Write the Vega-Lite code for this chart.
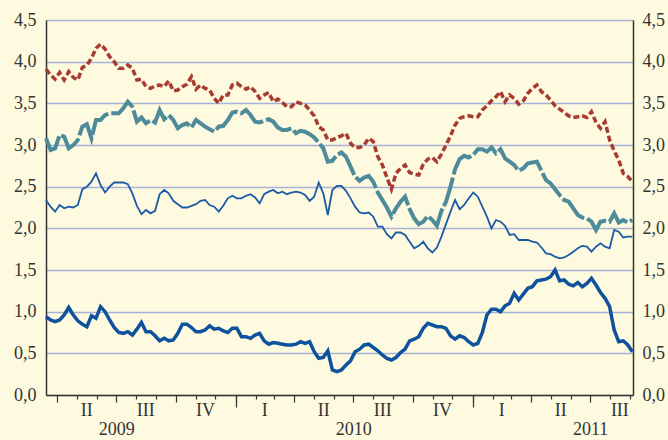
{
 "$schema": "https://vega.github.io/schema/vega-lite/v6.json",
 "width": 587,
 "height": 375,
 "autosize": "none",
 "padding": {"left": 46, "top": 20, "right": 35, "bottom": 45},
 "background": "#fefadf",
 "config": {
  "view": {"stroke": null},
  "axis": {"labelFont": "Liberation Serif", "labelFontSize": 18, "labelColor": "#333333", "domainColor": "#333333", "tickColor": "#333333", "labelFlush": false, "labelOverlap": false, "labelBound": false, "title": null, "grid": false}
 },
 "data": {"values": [
  {"d":"2009-03-15","r":3.91,"t":3.08,"b":2.34,"k":0.94},
  {"d":"2009-03-22","r":3.84,"t":2.94,"b":2.26,"k":0.90},
  {"d":"2009-03-29","r":3.79,"t":2.96,"b":2.20,"k":0.88},
  {"d":"2009-04-05","r":3.87,"t":3.12,"b":2.28,"k":0.90},
  {"d":"2009-04-12","r":3.78,"t":3.10,"b":2.24,"k":0.96},
  {"d":"2009-04-19","r":3.88,"t":2.96,"b":2.26,"k":1.05},
  {"d":"2009-04-26","r":3.81,"t":3.00,"b":2.25,"k":0.96},
  {"d":"2009-05-03","r":3.78,"t":3.06,"b":2.28,"k":0.89},
  {"d":"2009-05-10","r":3.93,"t":3.22,"b":2.47,"k":0.85},
  {"d":"2009-05-17","r":3.96,"t":3.25,"b":2.50,"k":0.82},
  {"d":"2009-05-24","r":4.04,"t":3.08,"b":2.56,"k":0.95},
  {"d":"2009-05-31","r":4.16,"t":3.30,"b":2.66,"k":0.92},
  {"d":"2009-06-07","r":4.21,"t":3.30,"b":2.52,"k":1.06},
  {"d":"2009-06-14","r":4.15,"t":3.36,"b":2.43,"k":1.00},
  {"d":"2009-06-21","r":4.06,"t":3.38,"b":2.50,"k":0.90},
  {"d":"2009-06-28","r":4.00,"t":3.38,"b":2.55,"k":0.81},
  {"d":"2009-07-05","r":3.92,"t":3.38,"b":2.55,"k":0.75},
  {"d":"2009-07-12","r":3.92,"t":3.44,"b":2.55,"k":0.74},
  {"d":"2009-07-19","r":3.96,"t":3.52,"b":2.53,"k":0.76},
  {"d":"2009-07-26","r":3.92,"t":3.46,"b":2.42,"k":0.72},
  {"d":"2009-08-02","r":3.78,"t":3.28,"b":2.27,"k":0.79},
  {"d":"2009-08-09","r":3.79,"t":3.33,"b":2.17,"k":0.87},
  {"d":"2009-08-16","r":3.70,"t":3.26,"b":2.22,"k":0.76},
  {"d":"2009-08-23","r":3.68,"t":3.30,"b":2.18,"k":0.76},
  {"d":"2009-08-30","r":3.71,"t":3.27,"b":2.21,"k":0.71},
  {"d":"2009-09-06","r":3.72,"t":3.42,"b":2.41,"k":0.65},
  {"d":"2009-09-13","r":3.70,"t":3.31,"b":2.46,"k":0.68},
  {"d":"2009-09-20","r":3.77,"t":3.36,"b":2.42,"k":0.65},
  {"d":"2009-09-27","r":3.65,"t":3.30,"b":2.33,"k":0.66},
  {"d":"2009-10-04","r":3.66,"t":3.20,"b":2.29,"k":0.74},
  {"d":"2009-10-11","r":3.70,"t":3.24,"b":2.25,"k":0.85},
  {"d":"2009-10-18","r":3.73,"t":3.26,"b":2.25,"k":0.85},
  {"d":"2009-10-25","r":3.82,"t":3.21,"b":2.27,"k":0.81},
  {"d":"2009-11-01","r":3.67,"t":3.30,"b":2.29,"k":0.76},
  {"d":"2009-11-08","r":3.72,"t":3.26,"b":2.33,"k":0.76},
  {"d":"2009-11-15","r":3.68,"t":3.22,"b":2.34,"k":0.78},
  {"d":"2009-11-22","r":3.66,"t":3.19,"b":2.28,"k":0.83},
  {"d":"2009-11-29","r":3.56,"t":3.16,"b":2.26,"k":0.79},
  {"d":"2009-12-06","r":3.50,"t":3.22,"b":2.20,"k":0.80},
  {"d":"2009-12-13","r":3.60,"t":3.23,"b":2.27,"k":0.77},
  {"d":"2009-12-20","r":3.60,"t":3.30,"b":2.36,"k":0.75},
  {"d":"2009-12-27","r":3.72,"t":3.39,"b":2.39,"k":0.80},
  {"d":"2010-01-03","r":3.74,"t":3.40,"b":2.36,"k":0.80},
  {"d":"2010-01-10","r":3.70,"t":3.38,"b":2.36,"k":0.70},
  {"d":"2010-01-17","r":3.67,"t":3.42,"b":2.39,"k":0.70},
  {"d":"2010-01-24","r":3.70,"t":3.36,"b":2.41,"k":0.68},
  {"d":"2010-01-31","r":3.64,"t":3.28,"b":2.37,"k":0.72},
  {"d":"2010-02-07","r":3.56,"t":3.27,"b":2.30,"k":0.74},
  {"d":"2010-02-14","r":3.60,"t":3.29,"b":2.41,"k":0.65},
  {"d":"2010-02-21","r":3.63,"t":3.31,"b":2.44,"k":0.61},
  {"d":"2010-02-28","r":3.52,"t":3.28,"b":2.46,"k":0.63},
  {"d":"2010-03-07","r":3.55,"t":3.21,"b":2.42,"k":0.62},
  {"d":"2010-03-14","r":3.51,"t":3.18,"b":2.44,"k":0.61},
  {"d":"2010-03-21","r":3.46,"t":3.18,"b":2.41,"k":0.60},
  {"d":"2010-03-28","r":3.46,"t":3.20,"b":2.43,"k":0.60},
  {"d":"2010-04-04","r":3.52,"t":3.14,"b":2.44,"k":0.61},
  {"d":"2010-04-11","r":3.50,"t":3.17,"b":2.43,"k":0.64},
  {"d":"2010-04-18","r":3.48,"t":3.16,"b":2.40,"k":0.62},
  {"d":"2010-04-25","r":3.42,"t":3.13,"b":2.33,"k":0.64},
  {"d":"2010-05-02","r":3.35,"t":3.09,"b":2.38,"k":0.52},
  {"d":"2010-05-09","r":3.22,"t":3.03,"b":2.55,"k":0.44},
  {"d":"2010-05-16","r":3.18,"t":2.96,"b":2.42,"k":0.45},
  {"d":"2010-05-23","r":3.06,"t":2.80,"b":2.16,"k":0.53},
  {"d":"2010-05-30","r":3.06,"t":2.81,"b":2.46,"k":0.30},
  {"d":"2010-06-06","r":3.09,"t":2.88,"b":2.51,"k":0.28},
  {"d":"2010-06-13","r":3.11,"t":2.91,"b":2.51,"k":0.30},
  {"d":"2010-06-20","r":3.14,"t":2.86,"b":2.45,"k":0.36},
  {"d":"2010-06-27","r":3.02,"t":2.74,"b":2.36,"k":0.41},
  {"d":"2010-07-04","r":2.97,"t":2.62,"b":2.26,"k":0.52},
  {"d":"2010-07-11","r":2.97,"t":2.57,"b":2.19,"k":0.55},
  {"d":"2010-07-18","r":3.00,"t":2.61,"b":2.18,"k":0.60},
  {"d":"2010-07-25","r":3.08,"t":2.63,"b":2.19,"k":0.61},
  {"d":"2010-08-01","r":3.04,"t":2.56,"b":2.14,"k":0.57},
  {"d":"2010-08-08","r":2.86,"t":2.43,"b":2.02,"k":0.53},
  {"d":"2010-08-15","r":2.76,"t":2.34,"b":2.02,"k":0.48},
  {"d":"2010-08-22","r":2.61,"t":2.25,"b":1.93,"k":0.44},
  {"d":"2010-08-29","r":2.47,"t":2.14,"b":1.88,"k":0.42},
  {"d":"2010-09-05","r":2.66,"t":2.24,"b":1.95,"k":0.45},
  {"d":"2010-09-12","r":2.72,"t":2.32,"b":1.95,"k":0.51},
  {"d":"2010-09-19","r":2.76,"t":2.38,"b":1.92,"k":0.55},
  {"d":"2010-09-26","r":2.67,"t":2.23,"b":1.84,"k":0.65},
  {"d":"2010-10-03","r":2.65,"t":2.12,"b":1.76,"k":0.67},
  {"d":"2010-10-10","r":2.64,"t":2.05,"b":1.79,"k":0.70},
  {"d":"2010-10-17","r":2.77,"t":2.08,"b":1.84,"k":0.80},
  {"d":"2010-10-24","r":2.83,"t":2.15,"b":1.76,"k":0.86},
  {"d":"2010-10-31","r":2.85,"t":2.10,"b":1.71,"k":0.84},
  {"d":"2010-11-07","r":2.80,"t":2.03,"b":1.77,"k":0.82},
  {"d":"2010-11-14","r":2.89,"t":2.21,"b":1.90,"k":0.82},
  {"d":"2010-11-21","r":3.00,"t":2.32,"b":2.05,"k":0.80},
  {"d":"2010-11-28","r":3.11,"t":2.50,"b":2.20,"k":0.71},
  {"d":"2010-12-05","r":3.24,"t":2.71,"b":2.34,"k":0.67},
  {"d":"2010-12-12","r":3.32,"t":2.83,"b":2.23,"k":0.71},
  {"d":"2010-12-19","r":3.34,"t":2.87,"b":2.28,"k":0.69},
  {"d":"2010-12-26","r":3.35,"t":2.85,"b":2.36,"k":0.64},
  {"d":"2011-01-02","r":3.34,"t":2.88,"b":2.43,"k":0.60},
  {"d":"2011-01-09","r":3.34,"t":2.95,"b":2.38,"k":0.62},
  {"d":"2011-01-16","r":3.42,"t":2.95,"b":2.26,"k":0.75},
  {"d":"2011-01-23","r":3.47,"t":2.92,"b":2.14,"k":0.96},
  {"d":"2011-01-30","r":3.53,"t":2.97,"b":2.00,"k":1.03},
  {"d":"2011-02-06","r":3.58,"t":2.90,"b":2.10,"k":1.03},
  {"d":"2011-02-13","r":3.64,"t":2.95,"b":2.08,"k":1.00},
  {"d":"2011-02-20","r":3.52,"t":2.84,"b":2.03,"k":1.07},
  {"d":"2011-02-27","r":3.60,"t":2.80,"b":1.92,"k":1.10},
  {"d":"2011-03-06","r":3.56,"t":2.76,"b":1.93,"k":1.22},
  {"d":"2011-03-13","r":3.49,"t":2.69,"b":1.86,"k":1.14},
  {"d":"2011-03-20","r":3.53,"t":2.72,"b":1.86,"k":1.21},
  {"d":"2011-03-27","r":3.62,"t":2.78,"b":1.86,"k":1.28},
  {"d":"2011-04-03","r":3.68,"t":2.79,"b":1.84,"k":1.30},
  {"d":"2011-04-10","r":3.72,"t":2.80,"b":1.83,"k":1.37},
  {"d":"2011-04-17","r":3.64,"t":2.69,"b":1.77,"k":1.38},
  {"d":"2011-04-24","r":3.60,"t":2.58,"b":1.70,"k":1.39},
  {"d":"2011-05-01","r":3.54,"t":2.54,"b":1.69,"k":1.42},
  {"d":"2011-05-08","r":3.47,"t":2.47,"b":1.66,"k":1.50},
  {"d":"2011-05-15","r":3.43,"t":2.40,"b":1.64,"k":1.37},
  {"d":"2011-05-22","r":3.39,"t":2.34,"b":1.65,"k":1.38},
  {"d":"2011-05-29","r":3.35,"t":2.32,"b":1.68,"k":1.33},
  {"d":"2011-06-05","r":3.33,"t":2.24,"b":1.72,"k":1.31},
  {"d":"2011-06-12","r":3.34,"t":2.16,"b":1.76,"k":1.35},
  {"d":"2011-06-19","r":3.35,"t":2.13,"b":1.79,"k":1.30},
  {"d":"2011-06-26","r":3.33,"t":2.12,"b":1.78,"k":1.34},
  {"d":"2011-07-03","r":3.40,"t":2.08,"b":1.72,"k":1.40},
  {"d":"2011-07-10","r":3.27,"t":1.98,"b":1.78,"k":1.32},
  {"d":"2011-07-17","r":3.20,"t":2.08,"b":1.82,"k":1.23},
  {"d":"2011-07-24","r":3.28,"t":2.09,"b":1.78,"k":1.16},
  {"d":"2011-07-31","r":3.06,"t":2.08,"b":1.76,"k":1.06},
  {"d":"2011-08-07","r":2.93,"t":2.18,"b":1.98,"k":0.78},
  {"d":"2011-08-14","r":2.82,"t":2.07,"b":1.96,"k":0.64},
  {"d":"2011-08-21","r":2.66,"t":2.10,"b":1.89,"k":0.65},
  {"d":"2011-08-28","r":2.62,"t":2.07,"b":1.90,"k":0.60},
  {"d":"2011-09-04","r":2.56,"t":2.10,"b":1.90,"k":0.52}
 ]},
 "resolve": {"axis": {"x": "independent", "y": "independent"}},
 "layer": [
  {
   "mark": {"type": "line", "color": "#a83b30", "strokeWidth": 3.5, "strokeDash": [6, 3], "strokeCap": "butt"},
   "encoding": {
    "x": {"field": "d", "type": "temporal",
     "scale": {"type": "utc", "domain": [{"year": 2009, "month": 3, "date": 15, "utc": true}, {"year": 2011, "month": 9, "date": 5, "utc": true}], "nice": false},
     "axis": {"orient": "bottom", "tickCount": {"interval": "month", "step": 1}, "labels": false,
      "tickSize": {"condition": {"test": "utcmonth(datum.value) % 3 == 0", "value": 7}, "value": 4},
      "tickWidth": 1.2, "domainWidth": 1.5}},
    "y": {"field": "r", "type": "quantitative",
     "scale": {"domain": [0, 4.5], "nice": false, "zero": true},
     "axis": {"orient": "left", "values": [0, 0.5, 1, 1.5, 2, 2.5, 3, 3.5, 4, 4.5],
      "labelExpr": "replace(format(datum.value, '.1f'), '.', ',')",
      "ticks": false, "labelPadding": 10, "domainWidth": 1.5,
      "grid": true, "gridColor": "#a7b3d6", "gridWidth": 1.3}}
   }
  },
  {
   "mark": {"type": "line", "color": "#4d8b9b", "strokeWidth": 4, "strokeDash": [30, 3], "strokeCap": "butt"},
   "encoding": {
    "x": {"field": "d", "type": "temporal",
     "scale": {"type": "utc", "domain": [{"year": 2009, "month": 3, "date": 15, "utc": true}, {"year": 2011, "month": 9, "date": 5, "utc": true}], "nice": false},
     "axis": {"orient": "bottom", "values": [{"year": 2010, "month": 1, "date": 1, "utc": true}, {"year": 2011, "month": 1, "date": 1, "utc": true}],
      "labels": false, "domain": false, "tickSize": 12, "tickWidth": 1.2}},
    "y": {"field": "t", "type": "quantitative",
     "scale": {"domain": [0, 4.5], "nice": false, "zero": true},
     "axis": {"orient": "right", "values": [0, 0.5, 1, 1.5, 2, 2.5, 3, 3.5, 4, 4.5],
      "labelExpr": "replace(format(datum.value, '.1f'), '.', ',')",
      "ticks": false, "labelPadding": 9, "domainWidth": 1.5}}
   }
  },
  {
   "mark": {"type": "line", "color": "#1a5aa6", "strokeWidth": 1.8},
   "encoding": {
    "x": {"field": "d", "type": "temporal",
     "scale": {"type": "utc", "domain": [{"year": 2009, "month": 3, "date": 15, "utc": true}, {"year": 2011, "month": 9, "date": 5, "utc": true}], "nice": false},
     "axis": {"orient": "bottom",
      "values": [
       {"year": 2009, "month": 5, "date": 16, "utc": true},
       {"year": 2009, "month": 8, "date": 15, "utc": true},
       {"year": 2009, "month": 11, "date": 15, "utc": true},
       {"year": 2010, "month": 2, "date": 14, "utc": true},
       {"year": 2010, "month": 5, "date": 16, "utc": true},
       {"year": 2010, "month": 8, "date": 15, "utc": true},
       {"year": 2010, "month": 11, "date": 15, "utc": true},
       {"year": 2011, "month": 2, "date": 14, "utc": true},
       {"year": 2011, "month": 5, "date": 16, "utc": true},
       {"year": 2011, "month": 8, "date": 15, "utc": true}],
      "labelExpr": "['I','II','III','IV'][floor(utcmonth(datum.value) / 3)]",
      "ticks": false, "tickSize": 0, "domain": false, "labelPadding": 6}},
    "y": {"field": "b", "type": "quantitative",
     "scale": {"domain": [0, 4.5], "nice": false, "zero": true}, "axis": null}
   }
  },
  {
   "mark": {"type": "line", "color": "#0e529e", "strokeWidth": 3.5},
   "encoding": {
    "x": {"field": "d", "type": "temporal",
     "scale": {"type": "utc", "domain": [{"year": 2009, "month": 3, "date": 15, "utc": true}, {"year": 2011, "month": 9, "date": 5, "utc": true}], "nice": false},
     "axis": {"orient": "bottom",
      "values": [
       {"year": 2009, "month": 7, "date": 1, "utc": true},
       {"year": 2010, "month": 7, "date": 1, "utc": true},
       {"year": 2011, "month": 7, "date": 1, "utc": true}],
      "labelExpr": "utcFormat(datum.value, '%Y')",
      "ticks": false, "tickSize": 0, "domain": false, "labelPadding": 25}},
    "y": {"field": "k", "type": "quantitative",
     "scale": {"domain": [0, 4.5], "nice": false, "zero": true}, "axis": null}
   }
  }
 ]
}
